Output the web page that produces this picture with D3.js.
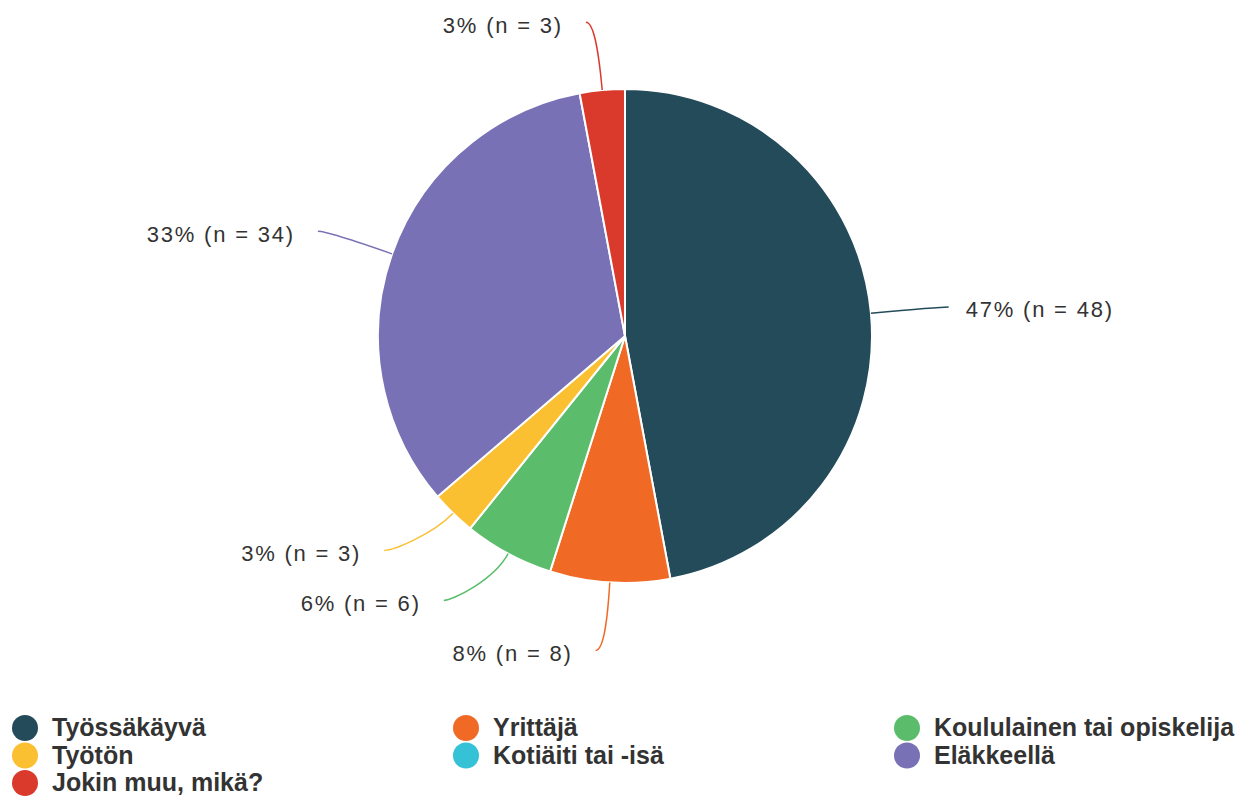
<!DOCTYPE html>
<html>
<head>
<meta charset="utf-8">
<script src="https://cdn.jsdelivr.net/npm/d3@7"></script>
<style>
    body { margin: 0; background: #fff; }
    text { font-family: Arial, "Liberation Sans", sans-serif; fill: #333; }
</style>
</head>
<body>
<div class="canvas"></div>
<script>
// data
const categories = ['Työssäkäyvä', 'Yrittäjä', 'Koululainen tai opiskelija', 'Työtön', 'Kotiäiti tai -isä', 'Eläkkeellä', 'Jokin muu, mikä?']
const counts = [48, 8, 6, 3, 0, 34, 3]
const colours = ['#244b5a', '#f06a25', '#5bbd6b', '#fbbf32', '#35c1d6', '#7871b5', '#d93a2b']

const width = 1249
const height = 797

// append svg to the canvas class
const svg = d3.select('.canvas')
                .append('svg')
                .attr('width', width)
                .attr('height', height);

const cx = 625
const cy = 336
const radius = 247
const labelRadius = 315
const labelShift = 10

const graph = svg.append('g')
                .attr('transform', `translate(${cx}, ${cy})`)

const total = d3.sum(counts)
const data = categories.map((name, i) => ({name, count: counts[i]}))

const colour = d3.scaleOrdinal()
                .domain(categories)
                .range(colours)

// pie starts at 12 o'clock and goes clockwise, keep data order
const pie = d3.pie()
            .sort(null)
            .value(d => d.count)

const arc = d3.arc()
            .innerRadius(0)
            .outerRadius(radius)

const arcs = pie(data).filter(d => d.data.count > 0)

graph.selectAll('path.slice')
    .data(arcs)
    .enter()
    .append('path')
        .attr('class', 'slice')
        .attr('d', arc)
        .attr('fill', d => colour(d.data.name))
        .attr('stroke', '#fff')
        .attr('stroke-width', 2)

// label positions - start on the mid angle, then push left side labels apart
const mid = d => (d.startAngle + d.endAngle) / 2
const labels = arcs.map(d => {
    const a = mid(d)
    return {
        d,
        a,
        x: Math.sin(a) * labelRadius,
        y: -Math.cos(a) * labelRadius
    }
})

const minGap = 50
const left = labels.filter(l => l.x < 0 && l.y > 0).sort((a, b) => b.y - a.y)
left.forEach((l, i) => {
    if (i == 0) return
    const prev = left[i - 1]
    if (l.y > prev.y - minGap) {
        l.y = prev.y - minGap
        l.x = -Math.sqrt(labelRadius * labelRadius - l.y * l.y)
    }
})
// move the ends a bit outwards horizontally
labels.forEach(l => { l.x += (l.x < 0 ? -1 : 1) * labelShift })

// leader lines
const leader = l => {
    const side = l.x < 0 ? -1 : 1
    const p0 = [Math.sin(l.a) * radius, -Math.cos(l.a) * radius]
    const c1 = [Math.sin(l.a) * (radius + 30), -Math.cos(l.a) * (radius + 30)]
    const c2 = [l.x - side * 9, l.y]
    const path = d3.path()
    path.moveTo(p0[0], p0[1])
    path.bezierCurveTo(c1[0], c1[1], c2[0], c2[1], l.x, l.y)
    return path.toString()
}

graph.selectAll('path.leader')
    .data(labels)
    .enter()
    .append('path')
        .attr('class', 'leader')
        .attr('d', leader)
        .attr('fill', 'none')
        .attr('stroke', l => colour(l.d.data.name))
        .attr('stroke-width', 1.5)

const pct = d3.format('.0%')

graph.selectAll('text.label')
    .data(labels)
    .enter()
    .append('text')
        .attr('class', 'label')
        .attr('x', l => l.x < 0 ? l.x - 23 : l.x + 17)
        .attr('y', l => l.y + 3)
        .attr('dominant-baseline', 'central')
        .attr('text-anchor', l => l.x < 0 ? 'end' : 'start')
        .style('font-size', '22px')
        .style('letter-spacing', '1.8px')
        .text(l => `${pct(l.d.data.count / total)} (n = ${l.d.data.count})`)

// legend, three columns row by row
const legendX = d3.scaleLinear().domain([0, 1]).range([12, 453])
const legendY = d3.scaleLinear().domain([0, 1]).range([728, 755.5])

const legend = svg.append('g')

const items = legend.selectAll('g')
                .data(data)
                .enter()
                .append('g')
                    .attr('transform', (d, i) => `translate(${legendX(i % 3)}, ${legendY(Math.floor(i / 3))})`)

items.append('circle')
    .attr('cx', 13)
    .attr('cy', 0)
    .attr('r', 13)
    .attr('fill', d => colour(d.name))

items.append('text')
    .attr('x', 40)
    .attr('y', 8)
    .style('font-size', '25px')
    .style('font-weight', 'bold')
    .text(d => d.name)
</script>
</body>
</html>
